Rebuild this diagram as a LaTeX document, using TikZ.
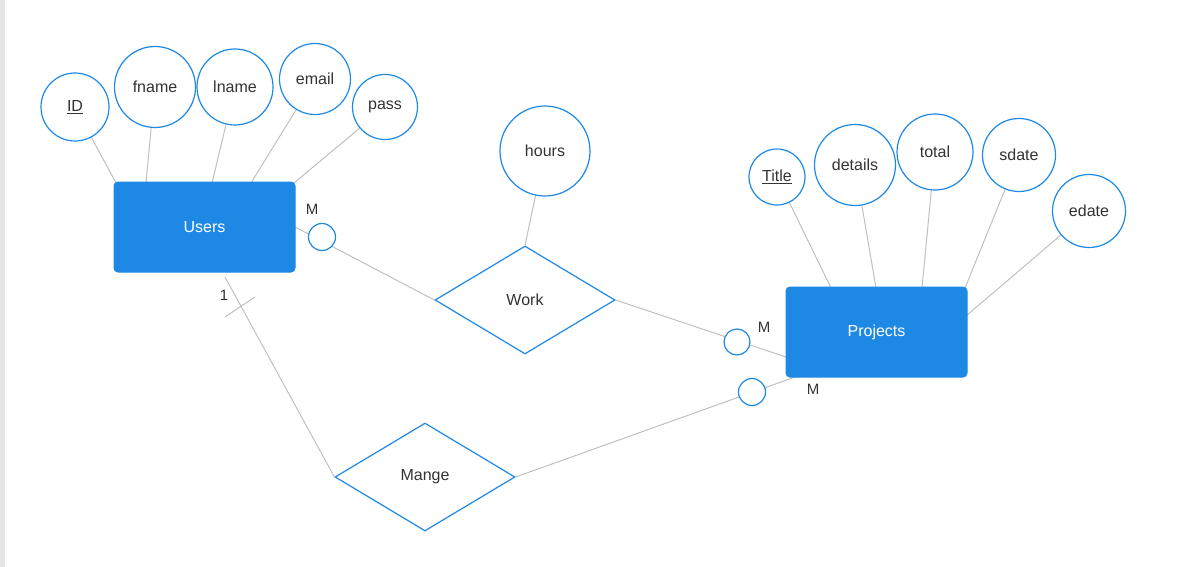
\documentclass[tikz,border=0pt]{standalone}
\usepackage{fontspec}
\setmainfont{Liberation Sans}
\usetikzlibrary{shapes.geometric,backgrounds}
\definecolor{erblue}{RGB}{30,137,229}
\definecolor{ertext}{RGB}{51,51,51}
\definecolor{erline}{RGB}{192,192,192}
\definecolor{strip}{RGB}{229,229,229}
\begin{document}
\begin{tikzpicture}[x=1pt,y=-1pt,
  every node/.style={font=\fontsize{16}{19}\selectfont, text=ertext},
  entity/.style={draw=erblue, fill=erblue, rounded corners=4pt, text=white, inner sep=0, line width=1pt},
  attr/.style={circle, draw=erblue, fill=white, line width=1.2pt, inner sep=0, minimum size=#1},
  rel/.style={diamond, draw=erblue, fill=white, line width=1.2pt, inner sep=0, aspect=1.667, minimum width=180pt, minimum height=108pt},
  opt/.style={circle, draw=erblue, fill=white, line width=1.2pt, inner sep=0, minimum size=#1},
  conn/.style={draw=erline, line width=1pt},
  card/.style={inner sep=0, font=\fontsize{15}{18}\selectfont}]
\useasboundingbox (0,0) rectangle (1193,567);
\fill[strip] (0,0) rectangle (5,567);

% entities
\node[entity, minimum width=181pt, minimum height=90pt] (users) at (204.5,227) {Users};
\node[entity, minimum width=181pt, minimum height=90pt] (projects) at (876.5,332) {Projects};

% relationships
\node[rel] (work) at (525,300) {Work};
\node[rel] (mange) at (425,477) {Mange};

% Users attributes
\node[attr=68pt] (id) at (75,107) {\underline{ID}};
\node[attr=81pt] (fname) at (155,87) {fname};
\node[attr=76pt] (lname) at (235,87) {lname};
\node[attr=71pt] (email) at (315,79) {email};
\node[attr=65pt] (pass) at (385,107) {pass};

% Work attribute
\node[attr=90pt] (hours) at (545,151) {hours};

% Projects attributes
\node[attr=56pt] (title) at (777,177) {\underline{Title}};
\node[attr=81pt] (details) at (855,165) {details};
\node[attr=76pt] (total) at (935,152) {total};
\node[attr=73pt] (sdate) at (1019,155) {sdate};
\node[attr=73pt] (edate) at (1089,211) {edate};

% connector end points on the boxes
\coordinate (u1) at (116,183);
\coordinate (u2) at (146,183);
\coordinate (u3) at (212,183);
\coordinate (u4) at (251,183);
\coordinate (u5) at (294,183);
\coordinate (uR) at (295,227);
\coordinate (uB) at (225,277);
\coordinate (p1) at (831,288);
\coordinate (p2) at (876,288);
\coordinate (p3) at (922,288);
\coordinate (p4) at (965,288);
\coordinate (p5) at (966,316);
\coordinate (pL) at (786,357);
\coordinate (pB) at (795,377);
\coordinate (t1) at (225,317);
\coordinate (t2) at (255,297);

\begin{scope}[on background layer]
\draw[conn] (id) -- (u1);
\draw[conn] (fname) -- (u2);
\draw[conn] (lname) -- (u3);
\draw[conn] (email) -- (u4);
\draw[conn] (pass) -- (u5);
\draw[conn] (title) -- (p1);
\draw[conn] (details) -- (p2);
\draw[conn] (total) -- (p3);
\draw[conn] (sdate) -- (p4);
\draw[conn] (edate) -- (p5);
\draw[conn] (hours) -- (work.north);
\draw[conn] (uR) -- (work.west);
\draw[conn] (work.east) -- (pL);
\draw[conn] (uB) -- (mange.west);
\draw[conn] (mange.east) -- (pB);
\draw[conn] (t1) -- (t2);
\end{scope}

% optionality circles
\node[opt=27pt] (o1) at (322,237) {};
\node[opt=26pt] (o2) at (737,342) {};
\node[opt=27pt] (o3) at (752,392) {};

% cardinality labels
\node[card] (m1) at (312,209) {M};
\node[card] (m2) at (764,327) {M};
\node[card] (m3) at (813,389) {M};
\node[card] (one) at (224,295) {1};
\end{tikzpicture}
\end{document}
